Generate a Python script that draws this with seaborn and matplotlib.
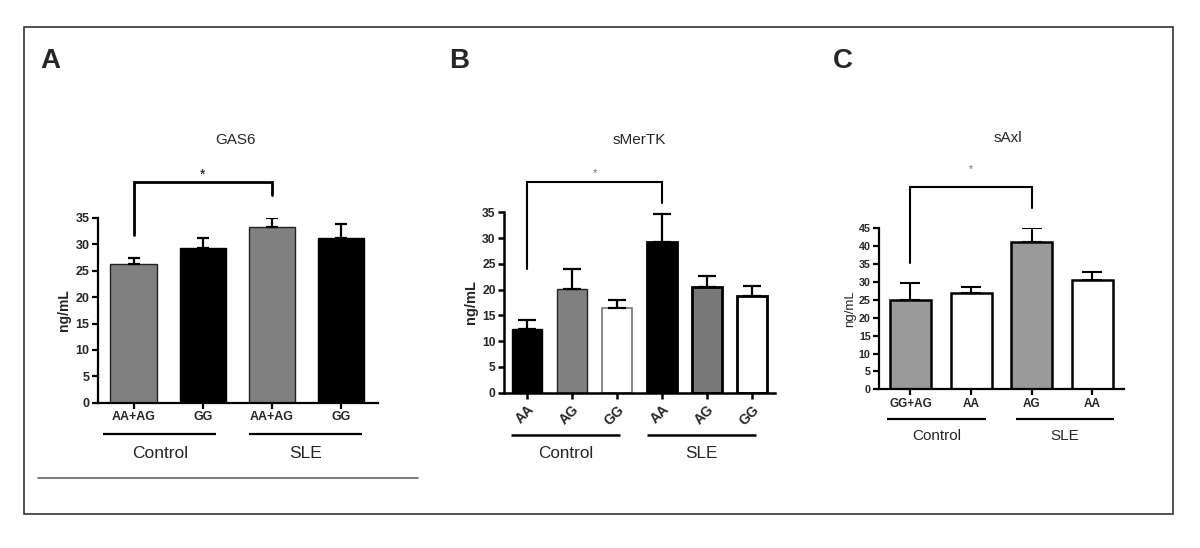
import matplotlib
matplotlib.use("Agg")
import matplotlib.pyplot as plt
import seaborn as sns
import pandas as pd
import numpy as np
from matplotlib.patches import Rectangle
from matplotlib.lines import Line2D

# ---------------- data ----------------
gas6_genotypes = ["AA+AG", "GG", "AA+AG", "GG"]
gas6_groups = ["Control", "Control", "SLE", "SLE"]
gas6_mean = [26.2, 29.3, 33.2, 31.3]
gas6_sem = [1.3, 2.0, 1.8, 2.6]

smertk_genotypes = ["AA", "AG", "GG", "AA", "AG", "GG"]
smertk_groups = ["Control", "Control", "Control", "SLE", "SLE", "SLE"]
smertk_mean = [12.4, 20.1, 16.4, 29.3, 20.5, 18.8]
smertk_sem = [1.7, 3.9, 1.5, 5.4, 2.1, 1.9]

saxl_genotypes = ["GG+AG", "AA", "AG", "AA"]
saxl_groups = ["Control", "Control", "SLE", "SLE"]
saxl_mean = [25.0, 26.8, 41.3, 30.6]
saxl_sem = [4.8, 1.9, 3.9, 2.2]

titles = ["GAS6", "sMerTK", "sAxl"]
panel_letters = ["A", "B", "C"]

# ---------------- style ----------------
sns.set_style("ticks")
plt.rcParams["font.family"] = ["Liberation Sans", "DejaVu Sans"]

W, H = 1200, 548
fig = plt.figure(figsize=(W / 100, H / 100), dpi=100)


def px_axes(x0, x1, ytop, ybot):
    return fig.add_axes([x0 / W, 1 - ybot / H, (x1 - x0) / W, (ybot - ytop) / H])


def draw_panel(ax, genotypes, groups, means, sems, colors, edgecolors, edgewidths,
               width, xlim, ymax, ystep, xtick_fs, ytick_fs, spine_lw, capsize,
               err_lw, rot, bracket, bracket_lw, star_style,
               group_line_y, group_spans, group_label_y, group_label_fs,
               ylabel_fs, ylabel_pad, ylabel_weight):
    keys = [f"{g}|{t}|{i}" for i, (g, t) in enumerate(zip(groups, genotypes))]
    df = pd.DataFrame({"key": keys, "mean": means})
    pal = dict(zip(keys, colors))
    sns.barplot(data=df, x="key", y="mean", hue="key", palette=pal, order=keys,
                hue_order=keys, legend=False, width=width, saturation=1,
                errorbar=None, ax=ax)
    for p, ec, lw in zip(ax.patches, edgecolors, edgewidths):
        p.set_edgecolor(ec)
        p.set_linewidth(lw)
    pos = np.arange(len(keys))
    ax.errorbar(pos, means, yerr=[np.zeros(len(means)), sems], fmt="none",
                ecolor="black", elinewidth=err_lw, capsize=capsize,
                capthick=err_lw, zorder=1)
    ax.set_xlim(*xlim)
    ax.set_ylim(0, ymax)
    ax.set_yticks(np.arange(0, ymax + 0.1, ystep))
    ax.set_xticks(pos)
    if rot:
        ax.set_xticklabels(genotypes, rotation=45, ha="right",
                           rotation_mode="anchor", fontsize=xtick_fs,
                           fontweight="bold")
    else:
        ax.set_xticklabels(genotypes, fontsize=xtick_fs, fontweight="bold")
    for lab in ax.get_yticklabels():
        lab.set_fontsize(ytick_fs)
        lab.set_fontweight("bold")
    ax.set_xlabel("")
    ax.set_ylabel("ng/mL", fontsize=ylabel_fs, fontweight=ylabel_weight,
                  labelpad=ylabel_pad)
    sns.despine(ax=ax)
    for s in ["left", "bottom"]:
        ax.spines[s].set_linewidth(spine_lw)
        ax.spines[s].set_color("black")
    ax.tick_params(axis="both", width=spine_lw, length=4, color="black",
                   pad=2)
    ax.tick_params(axis="x", pad=3 if rot else 2)
    # significance bracket
    i, j, li, lj, hy, sy = bracket
    ax.plot([i, i, j, j], [li, hy, hy, lj], color="black", lw=bracket_lw,
            clip_on=False, solid_joinstyle="miter")
    sfs, scol = star_style
    ax.text((i + j) / 2, sy, "*", ha="center", va="center", fontsize=sfs,
            color=scol)
    # group lines and labels
    for (a, b), name in zip(group_spans, ["Control", "SLE"]):
        ax.plot([a, b], [group_line_y, group_line_y], color="black",
                lw=spine_lw, clip_on=False, solid_capstyle="butt")
        ax.text((a + b) / 2, group_label_y, name, ha="center", va="center",
                fontsize=group_label_fs)
    return ax


# Panel A
axA = px_axes(98, 378, 218, 402.7)
draw_panel(axA, gas6_genotypes, gas6_groups, gas6_mean, gas6_sem,
           colors=["#808080", "#000000", "#808080", "#000000"],
           edgecolors=["#222222", "black", "#222222", "black"],
           edgewidths=[1.0, 1.0, 1.0, 1.0],
           width=0.667, xlim=(-0.514, 3.536), ymax=35, ystep=5,
           xtick_fs=9, ytick_fs=9, spine_lw=1.6, capsize=4.5, err_lw=1.6,
           rot=False, bracket=(0, 2, 31.8, 39.4, 41.9, 43.2),
           bracket_lw=2.0, star_style=(10, "black"),
           group_line_y=-5.93, group_spans=[(-0.44, 1.2), (1.67, 3.31)],
           group_label_y=-9.6, group_label_fs=12.5, ylabel_fs=10,
           ylabel_pad=3, ylabel_weight="bold")

# Panel B
axB = px_axes(504, 775, 212.3, 392.7)
draw_panel(axB, smertk_genotypes, smertk_groups, smertk_mean, smertk_sem,
           colors=["#000000", "#808080", "#ffffff", "#000000", "#787878", "#ffffff"],
           edgecolors=["black", "#222222", "#777777", "black", "black", "black"],
           edgewidths=[1.0, 1.0, 1.2, 2.0, 2.0, 2.0],
           width=0.667, xlim=(-0.511, 5.51), ymax=35, ystep=5,
           xtick_fs=10, ytick_fs=8.7, spine_lw=1.8, capsize=6.5, err_lw=1.6,
           rot=True, bracket=(0, 3, 24.0, 36.9, 40.8, 42.6),
           bracket_lw=1.5, star_style=(8, "#777777"),
           group_line_y=-8.15, group_spans=[(-0.36, 2.07), (2.67, 5.09)],
           group_label_y=-11.7, group_label_fs=12.3, ylabel_fs=10.5,
           ylabel_pad=3, ylabel_weight="bold")

# Panel C
axC = px_axes(879, 1124, 228.3, 389.3)
draw_panel(axC, saxl_genotypes, saxl_groups, saxl_mean, saxl_sem,
           colors=["#9a9a9a", "#ffffff", "#9a9a9a", "#ffffff"],
           edgecolors=["black", "black", "black", "black"],
           edgewidths=[1.8, 1.8, 1.8, 1.8],
           width=0.676, xlim=(-0.519, 3.52), ymax=45, ystep=5,
           xtick_fs=8.5, ytick_fs=7.7, spine_lw=1.6, capsize=7, err_lw=1.5,
           rot=False, bracket=(0, 2, 35.3, 50.7, 56.6, 61.5),
           bracket_lw=1.5, star_style=(7, "#666666"),
           group_line_y=-8.3, group_spans=[(-0.39, 1.24), (1.74, 3.35)],
           group_label_y=-13.0, group_label_fs=11, ylabel_fs=9.5,
           ylabel_pad=2, ylabel_weight="normal")

# titles above panels
for t, (cx, cy) in zip(titles, [(236, 140), (639, 140), (1008, 138)]):
    fig.text(cx / W, 1 - cy / H, t, ha="center", va="center", fontsize=11)

# panel letters
for L, (cx, cy) in zip(panel_letters, [(50, 61), (459, 61), (843, 61)]):
    fig.text(cx / W, 1 - cy / H, L, ha="center", va="center", fontsize=20,
             fontweight="bold")

# outer frame and line under panel A
fig.add_artist(Rectangle((24 / W, 1 - 514 / H), (1173 - 24) / W, (514 - 27) / H,
                         transform=fig.transFigure, fill=False,
                         edgecolor="#333333", lw=1.2))
fig.add_artist(Line2D([38 / W, 418 / W], [1 - 478 / H, 1 - 478 / H],
                      transform=fig.transFigure, color="#666666", lw=1.2))

fig.savefig("out.png", dpi=100, facecolor="white")
